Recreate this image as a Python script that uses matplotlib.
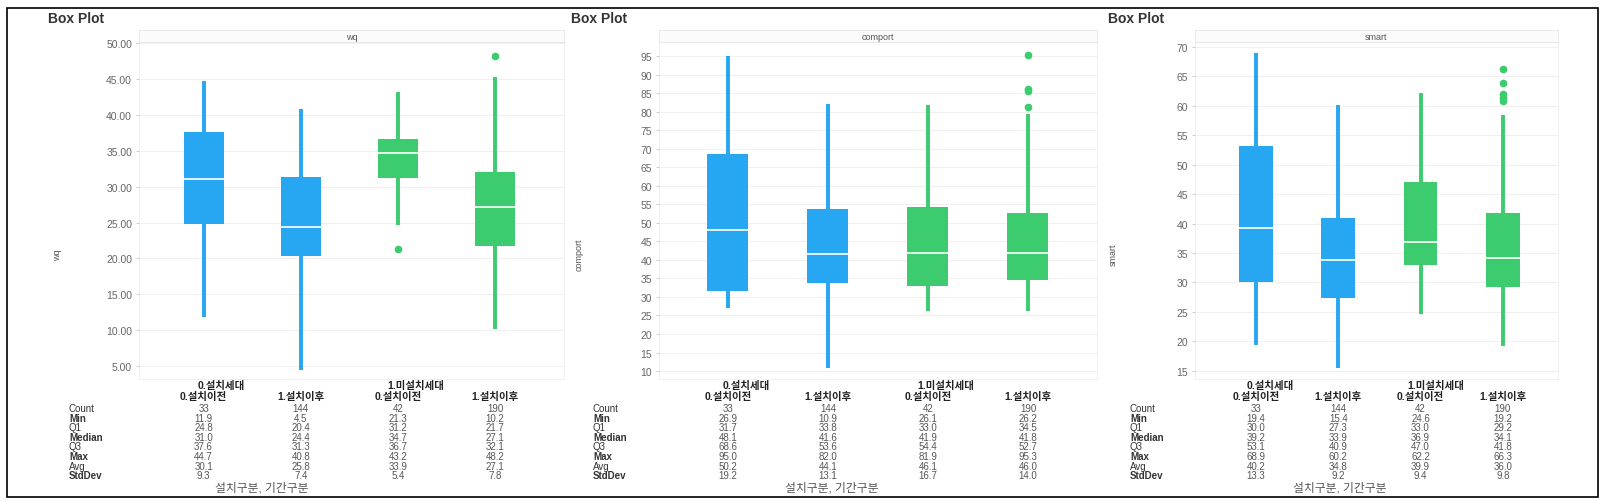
import matplotlib
matplotlib.use('Agg')
import matplotlib.pyplot as plt
from matplotlib.patches import Rectangle
from matplotlib.transforms import blended_transform_factory
import numpy as np

plt.rcParams['font.family'] = ['Liberation Sans', 'Noto Sans CJK KR']

groups = ['0.설치세대', '1.미설치세대']
periods = ['0.설치이전', '1.설치이후', '0.설치이전', '1.설치이후']
stat_names = ['Count', 'Min', 'Q1', 'Median', 'Q3', 'Max', 'Avg', 'StdDev']
box_colors = ['#27A6F2', '#27A6F2', '#3CCB6E', '#3CCB6E']

# rows: Count, Min, Q1, Median, Q3, Max, Avg, StdDev
wq_table = [[33, 144, 42, 190],
            [11.9, 4.5, 21.3, 10.2],
            [24.8, 20.4, 31.2, 21.7],
            [31.0, 24.4, 34.7, 27.1],
            [37.6, 31.3, 36.7, 32.1],
            [44.7, 40.8, 43.2, 48.2],
            [30.1, 25.8, 33.9, 27.1],
            [9.3, 7.4, 5.4, 7.8]]
wq_whislo = [11.9, 4.5, 24.7, 10.2]
wq_whishi = [44.7, 40.8, 43.2, 45.3]
wq_fliers = [[], [], [21.3], [48.2]]

comport_table = [[33, 144, 42, 190],
                 [26.9, 10.9, 26.1, 26.2],
                 [31.7, 33.8, 33.0, 34.5],
                 [48.1, 41.6, 41.9, 41.8],
                 [68.6, 53.6, 54.4, 52.7],
                 [95.0, 82.0, 81.9, 95.3],
                 [50.2, 44.1, 46.1, 46.0],
                 [19.2, 13.1, 16.7, 14.0]]
comport_whislo = [26.9, 10.9, 26.1, 26.2]
comport_whishi = [95.0, 82.0, 81.9, 79.5]
comport_fliers = [[], [], [], [81.2, 85.5, 86.0, 95.3]]

smart_table = [[33, 144, 42, 190],
               [19.4, 15.4, 24.6, 19.2],
               [30.0, 27.3, 33.0, 29.2],
               [39.2, 33.9, 36.9, 34.1],
               [53.1, 40.9, 47.0, 41.8],
               [68.9, 60.2, 62.2, 66.3],
               [40.2, 34.8, 39.9, 36.0],
               [13.3, 9.2, 9.4, 9.8]]
smart_whislo = [19.4, 15.4, 24.6, 19.2]
smart_whishi = [68.9, 60.2, 62.2, 58.4]
smart_fliers = [[], [], [], [60.9, 61.4, 62.0, 63.8, 66.3]]

W, H = 1608, 502
fig = plt.figure(figsize=(W / 100, H / 100), dpi=100)


def fx(x):
    return x / W


def fy(y):
    return 1 - y / H


panels = [
    dict(name='wq', table=wq_table, lo=wq_whislo, hi=wq_whishi, fl=wq_fliers,
         left=139, right=564, xlim=(-0.665, 3.71), ylim=(3.2, 50.15),
         ticks=np.arange(5, 51, 5), fmt='{:.2f}', title_x=48, ylabel_x=58,
         row_x=69, xlabel_x=262),
    dict(name='comport', table=comport_table, lo=comport_whislo, hi=comport_whishi,
         fl=comport_fliers, left=659, right=1097, xlim=(-0.69, 3.69),
         ylim=(7.85, 98.8), ticks=np.arange(10, 96, 5), fmt='{:.0f}',
         title_x=571, ylabel_x=579, row_x=593, xlabel_x=832),
    dict(name='smart', table=smart_table, lo=smart_whislo, hi=smart_whishi,
         fl=smart_fliers, left=1195, right=1558, xlim=(-0.74, 3.67),
         ylim=(13.6, 70.85), ticks=np.arange(15, 71, 5), fmt='{:.0f}',
         title_x=1108, ylabel_x=1113, row_x=1130, xlabel_x=1340),
]

top, strip_top, bottom = 43, 31, 380

for p in panels:
    ax = fig.add_axes([fx(p['left']), fy(bottom), fx(p['right'] - p['left']),
                       (bottom - top) / H])
    t = p['table']
    stats = []
    for i in range(4):
        stats.append(dict(med=t[3][i], q1=t[2][i], q3=t[4][i],
                          whislo=p['lo'][i], whishi=p['hi'][i], fliers=p['fl'][i]))
    bp = ax.bxp(stats, positions=range(4), widths=0.41, patch_artist=True,
                showcaps=False, showfliers=True)
    for i, c in enumerate(box_colors):
        bp['boxes'][i].set(facecolor=c, edgecolor=c, linewidth=0)
        bp['medians'][i].set(color='white', linewidth=1.2)
        for w in bp['whiskers'][2 * i:2 * i + 2]:
            w.set(color=c, linewidth=2.8, solid_capstyle='butt')
        bp['fliers'][i].set(marker='o', markerfacecolor=c, markeredgecolor=c,
                            markersize=4.5)
    ax.set_xlim(*p['xlim'])
    ax.set_ylim(*p['ylim'])
    ax.set_xticks([])
    ax.set_yticks(p['ticks'])
    ax.set_yticklabels([p['fmt'].format(v) for v in p['ticks']])
    ax.tick_params(axis='y', labelsize=7.5, labelcolor='#666666', length=2,
                   color='#cccccc', pad=3)
    ax.grid(axis='y', color='#f0f0f0', linewidth=0.8)
    ax.set_axisbelow(True)
    for s in ax.spines.values():
        s.set_color('#eeeeee')
        s.set_linewidth(0.6)

    # facet strip
    sax = fig.add_axes([fx(p['left']), fy(top), fx(p['right'] - p['left']),
                        (top - strip_top) / H])
    sax.set_facecolor('#fbfbfb')
    sax.set_xticks([])
    sax.set_yticks([])
    for s in sax.spines.values():
        s.set_color('#e6e6e6')
        s.set_linewidth(0.6)
    sax.text(0.5, 0.5, p['name'], ha='center', va='center', fontsize=6.5,
             color='#555555', transform=sax.transAxes)

    fig.text(fx(p['title_x']), fy(19), 'Box Plot', fontsize=10, fontweight='bold',
             color='#333333', ha='left', va='center')
    fig.text(fx(p['ylabel_x']), fy(255), p['name'], rotation=90, fontsize=6.5,
             color='#555555', ha='center', va='center')

    # summary table under the boxes
    tr = blended_transform_factory(ax.transData, fig.transFigure)
    for g, name in enumerate(groups):
        fig.text(2 * g + 0.18, fy(386), name, transform=tr, ha='center', va='center',
                 fontsize=7.5, fontweight='bold', color='#222222')
    for i, name in enumerate(periods):
        fig.text(i, fy(397), name, transform=tr, ha='center', va='center',
                 fontsize=7.5, fontweight='bold', color='#222222')
    for r, sname in enumerate(stat_names):
        yy = fy(409 + r * 9.6)
        fig.text(fx(p['row_x']), yy, sname, ha='left', va='center', fontsize=7,
                 color='#333333', fontweight='bold' if r % 2 else 'normal')
        for i in range(4):
            v = t[r][i]
            s = str(v) if r == 0 else '{:.1f}'.format(v)
            fig.text(i, yy, s, transform=tr, ha='center', va='center',
                     fontsize=7, color='#555555')
    fig.text(fx(p['xlabel_x']), fy(489), '설치구분, 기간구분', ha='center',
             va='center', fontsize=8.5, color='#555555')

fig.patches.append(Rectangle((fx(7), fy(498)), fx(1598 - 7), (498 - 9) / H,
                             transform=fig.transFigure, fill=False,
                             edgecolor='black', linewidth=1.2))

fig.savefig('out.png', dpi=100, facecolor='white')
